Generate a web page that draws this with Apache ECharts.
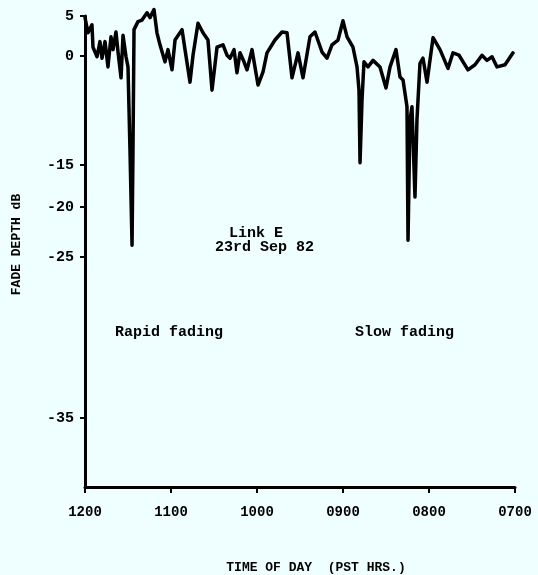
<!DOCTYPE html>
<html>
<head>
<meta charset="utf-8">
<script src="https://cdn.jsdelivr.net/npm/echarts@6/dist/echarts.min.js"></script>
<style>
html,body{margin:0;padding:0;background:#effefe;}
#chart{width:538px;height:575px;}
</style>
</head>
<body>
<div id="chart"></div>
<script>
// Time of day (decimal hours, PST)
const timeHrs = [12.000,11.965,11.919,11.907,11.860,11.826,11.802,11.767,11.733,11.698,11.674,11.640,11.616,11.581,11.558,11.523,11.500,11.477,11.453,11.442,11.430,11.384,11.337,11.279,11.244,11.198,11.163,11.128,11.070,11.035,10.988,10.953,10.872,10.837,10.779,10.744,10.686,10.628,10.570,10.523,10.465,10.395,10.349,10.314,10.267,10.233,10.198,10.151,10.116,10.058,9.988,9.930,9.884,9.791,9.709,9.651,9.593,9.523,9.465,9.384,9.326,9.244,9.186,9.128,9.058,9.000,8.953,8.884,8.837,8.814,8.802,8.779,8.756,8.709,8.651,8.570,8.500,8.453,8.384,8.337,8.302,8.256,8.244,8.221,8.198,8.163,8.140,8.105,8.070,8.023,7.953,7.872,7.779,7.721,7.651,7.547,7.465,7.384,7.326,7.267,7.209,7.116,7.023];
// Fade depth (dB)
const fadeDepthDb = [4.8,2.9,3.9,1.1,-0.1,1.8,-0.3,1.8,-1.5,2.4,0.8,3.0,0.5,-3.0,2.6,-0.1,-1.5,-12.9,-23.8,-12.9,3.3,4.3,4.5,5.4,4.8,5.8,2.9,1.4,-0.8,0.8,-1.9,2.0,3.3,0.8,-3.6,0.1,4.1,2.9,2.0,-4.7,1.1,1.4,0.1,-0.3,0.8,-2.3,0.4,-0.8,-1.9,0.8,-4.0,-2.2,0.4,2.0,3.0,2.9,-3.0,0.4,-3.0,2.4,3.0,0.5,-0.3,1.4,2.0,4.4,2.4,1.1,-1.5,-4.7,-14.7,-6.1,-0.8,-1.5,-0.6,-1.5,-4.4,-1.5,0.8,-2.9,-3.3,-7.0,-23.3,-8.8,-7.0,-18.8,-8.8,-1.0,-0.3,-3.6,2.3,0.8,-1.7,0.4,0.1,-1.9,-1.2,0.1,-0.6,-0.1,-1.5,-1.2,0.4];

// Y axis tick labels (dB) and the original chart's (non-uniform) scale:
// axis position (percent of axis height from bottom) of each labelled dB value
const yTickDb = [5, 0, -15, -20, -25, -35];
const yTickLabels = ['5', '0', '-15', '-20', '-25', '-35'];
const yScalePct = [100, 91.5, 68.4, 59.4, 48.8, 14.6];

// X axis ticks (hours) and labels
const xTicks = [12, 11, 10, 9, 8, 7];
const xTickLabels = ['1200', '1100', '1000', '0900', '0800', '0700'];

function dbToAxis(db) {
  let i = 0;
  if (db >= yTickDb[0]) i = 0;
  else {
    i = yTickDb.length - 2;
    for (let k = 0; k < yTickDb.length - 1; k++) {
      if (db <= yTickDb[k] && db >= yTickDb[k + 1]) { i = k; break; }
    }
  }
  const d0 = yTickDb[i], d1 = yTickDb[i + 1];
  const p0 = yScalePct[i], p1 = yScalePct[i + 1];
  return p0 + (db - d0) * (p1 - p0) / (d1 - d0);
}

const seriesData = timeHrs.map((h, i) => [h, dbToAxis(fadeDepthDb[i])]);

const FONT = 'Liberation Mono';
const chart = echarts.init(document.getElementById('chart'), null, {renderer: 'canvas'});
chart.setOption({
  backgroundColor: '#effefe',
  animation: false,
  grid: {left: 85, right: 23, top: 16, bottom: 88, outerBoundsMode: 'none', containLabel: false},
  xAxis: {
    type: 'value', min: 7, max: 12, interval: 1, inverse: true,
    name: 'TIME OF DAY  (PST HRS.)',
    nameLocation: 'middle', nameGap: 74,
    nameTextStyle: {fontFamily: FONT, fontWeight: 'bold', fontSize: 13, color: '#000', padding: [0, 0, 0, 32]},
    axisLine: {show: true, lineStyle: {color: '#000', width: 3}},
    axisTick: {show: true, length: 6, lineStyle: {color: '#000', width: 2}},
    splitLine: {show: false},
    axisLabel: {
      margin: 18, color: '#000', fontFamily: FONT, fontWeight: 'bold', fontSize: 14,
      formatter: v => { const i = xTicks.indexOf(Math.round(v)); return i >= 0 ? xTickLabels[i] : ''; }
    }
  },
  yAxis: {
    type: 'value', min: 0, max: 100,
    name: 'FADE DEPTH dB',
    nameLocation: 'middle', nameGap: 62, nameRotate: 90,
    nameTextStyle: {fontFamily: FONT, fontWeight: 'bold', fontSize: 13, color: '#000', padding: [0, 0, 0, 14]},
    axisLine: {show: true, lineStyle: {color: '#000', width: 3}},
    axisTick: {show: true, length: 5, customValues: yScalePct, lineStyle: {color: '#000', width: 2}},
    splitLine: {show: false},
    axisLabel: {
      customValues: yScalePct, margin: 11, color: '#000', fontFamily: FONT, fontWeight: 'bold', fontSize: 15,
      formatter: v => {
        for (let i = 0; i < yScalePct.length; i++) if (Math.abs(yScalePct[i] - v) < 0.01) return yTickLabels[i];
        return '';
      }
    }
  },
  graphic: [
    {type: 'text', left: 229, top: 226, style: {text: 'Link E', font: 'bold 15px "Liberation Mono"', fill: '#000'}},
    {type: 'text', left: 215, top: 240, style: {text: '23rd Sep 82', font: 'bold 15px "Liberation Mono"', fill: '#000'}},
    {type: 'text', left: 115, top: 325, style: {text: 'Rapid fading', font: 'bold 15px "Liberation Mono"', fill: '#000'}},
    {type: 'text', left: 355, top: 325, style: {text: 'Slow fading', font: 'bold 15px "Liberation Mono"', fill: '#000'}}
  ],
  series: [{
    type: 'line',
    data: seriesData,
    showSymbol: false,
    clip: false,
    lineStyle: {color: '#000', width: 3.5, join: 'round', cap: 'round'},
    itemStyle: {color: '#000'}
  }]
});
</script>
</body>
</html>
